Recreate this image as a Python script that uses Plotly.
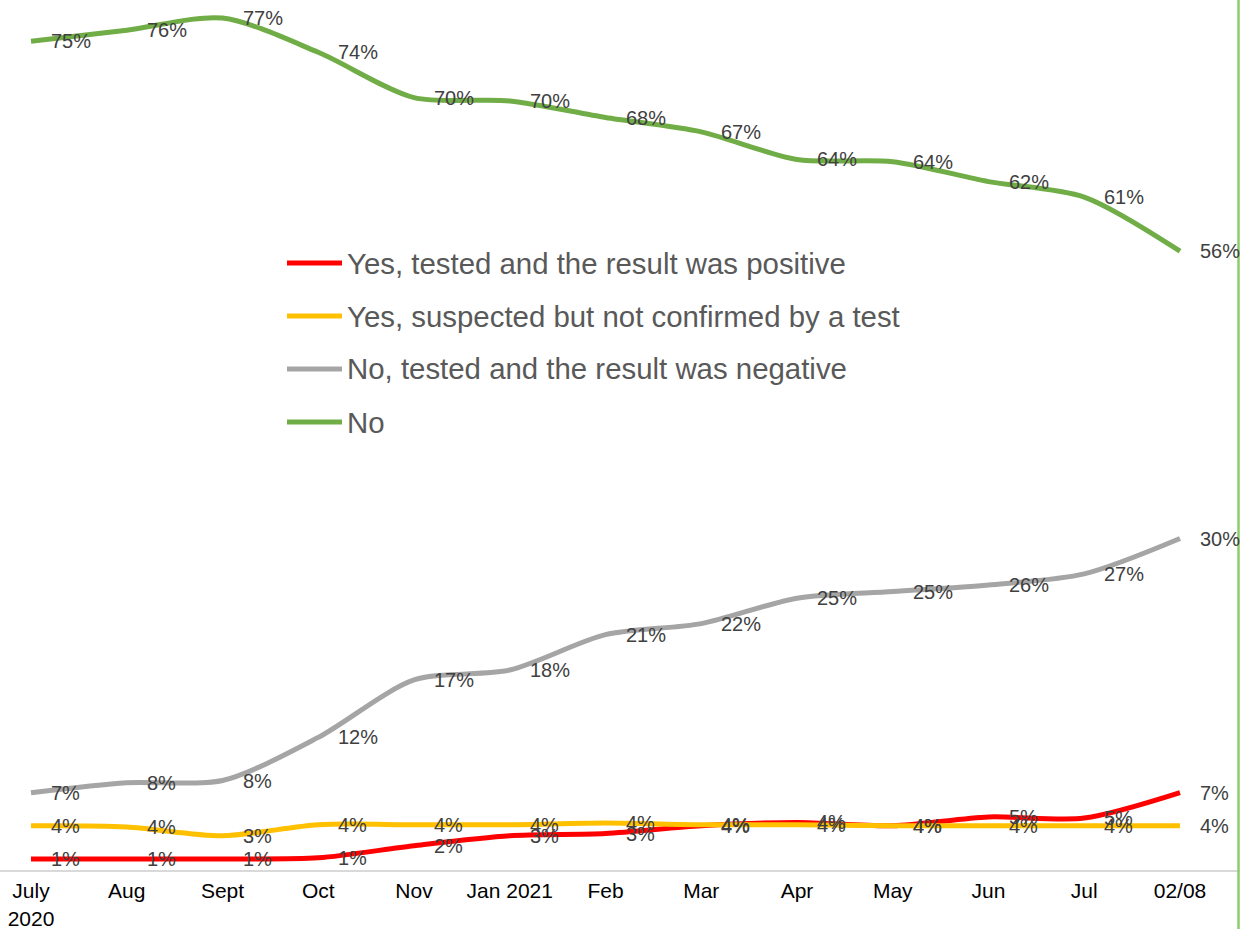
import plotly.graph_objects as go

categories = ["July<br>2020", "Aug", "Sept", "Oct", "Nov", "Jan 2021", "Feb",
              "Mar", "Apr", "May", "Jun", "Jul", "02/08"]

positive = [1.0, 1.0, 1.0, 1.1, 2.2, 3.1, 3.3, 4.0, 4.3, 4.0, 4.8, 4.7, 7.0]
suspected = [4.0, 3.9, 3.1, 4.1, 4.1, 4.1, 4.25, 4.1, 4.1, 4.0, 4.0, 4.0, 4.0]
negative = [7.0, 7.9, 8.1, 12.0, 17.2, 18.1, 21.3, 22.3, 24.6, 25.2, 25.8, 26.8, 30.0]
no_covid = [75.0, 76.0, 77.1, 74.0, 69.9, 69.6, 68.1, 66.8, 64.3, 64.1, 62.3, 60.9, 56.0]

series_names = [
    "Yes, tested and the result was positive",
    "Yes, suspected but not confirmed by a test",
    "No, tested and the result was negative",
    "No",
]
series_values = [positive, suspected, negative, no_covid]
series_colors = ["#FF0000", "#FFC000", "#A5A5A5", "#70AD47"]

FONT = "Liberation Sans, Arial, sans-serif"

W, H = 1242, 929
ML, MR, MT, MB = 0, 2, 0, 59
PW, PH = W - ML - MR, H - MT - MB
unit = 95.75          # px per category step
first_x = 31          # px of first category inside plot area
r0 = -first_x / unit
r1 = r0 + PW / unit
px_per = 11.05        # px per percentage point
ytop = PH / px_per

fig = go.Figure()
for i, (name, vals, col) in enumerate(zip(series_names, series_values, series_colors)):
    fig.add_trace(go.Scatter(
        x=categories, y=vals, name=name, mode="lines",
        line=dict(color=col, width=5, shape="spline", smoothing=0.8),
        hoverinfo="skip", showlegend=False,
    ))

annotations = []
for vals in series_values:
    for c, v in zip(categories, vals):
        annotations.append(dict(
            x=c, y=v, xref="x", yref="y", text=f"{round(v)}%",
            showarrow=False, xanchor="left", yanchor="middle", xshift=18,
            font=dict(family=FONT, size=20, color="#404040"),
        ))

# legend drawn as layout elements (long line samples, as in the original)
shapes = []
leg_x0, leg_x1, leg_tx = 287, 342, 345
leg_y0, leg_dy = 263, 53
for i, (name, col) in enumerate(zip(series_names, series_colors)):
    yp = (PH - (leg_y0 + i * leg_dy)) / PH
    shapes.append(dict(type="line", xref="paper", yref="paper",
                       x0=leg_x0 / PW, x1=leg_x1 / PW, y0=yp, y1=yp,
                       line=dict(color=col, width=5)))
    annotations.append(dict(
        x=leg_tx / PW, y=yp, xref="paper", yref="paper", text=name,
        showarrow=False, xanchor="left", yanchor="middle",
        font=dict(family=FONT, size=29.4, color="#595959"),
    ))

# thin light-green frame line at the right edge
shapes.append(dict(type="line", xref="paper", yref="paper",
                   x0=1238.5 / PW, x1=1238.5 / PW, y0=-MB / PH, y1=1.0,
                   line=dict(color="#8FCB6B", width=2.5)))

fig.update_layout(
    width=W, height=H,
    margin=dict(l=ML, r=MR, t=MT, b=MB),
    paper_bgcolor="white", plot_bgcolor="white",
    font=dict(family=FONT),
    annotations=annotations,
    shapes=shapes,
    showlegend=False,
    xaxis=dict(
        type="category", range=[r0, r1], showgrid=False, zeroline=False,
        showline=True, linecolor="#D9D9D9", linewidth=2,
        ticks="outside", ticklen=1, tickcolor="rgba(0,0,0,0)",
        tickfont=dict(family=FONT, size=21, color="#000000"),
        automargin=False,
    ),
    yaxis=dict(
        range=[0, ytop], showgrid=False, zeroline=False, showticklabels=False,
        showline=False, automargin=False,
    ),
)

fig.write_html(
    "out.html",
    config={"displayModeBar": False},
    post_script="document.body.style.margin='0';document.body.style.overflow='hidden';",
)
